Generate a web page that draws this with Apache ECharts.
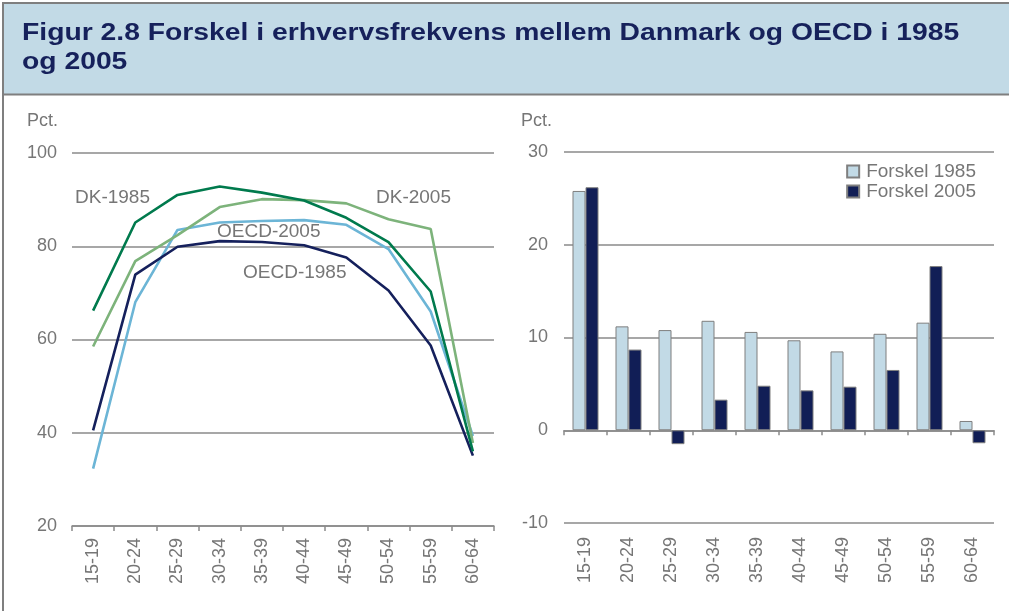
<!DOCTYPE html>
<html>
<head>
<meta charset="utf-8">
<script src="https://cdn.jsdelivr.net/npm/echarts@6/dist/echarts.min.js"></script>
<style>
  html, body { margin: 0; padding: 0; background: #fff; }
  #chart { width: 1009px; height: 611px; }
</style>
</head>
<body>
<div id="chart"></div>
<script>
// aldersgrupper
var ages = ['15-19', '20-24', '25-29', '30-34', '35-39', '40-44', '45-49', '50-54', '55-59', '60-64'];

// erhvervsfrekvens, pct.
var dk1985   = [66.2, 85.1, 91.0, 92.8, 91.5, 89.8, 86.1, 80.9, 70.3, 36.0];
var dk2005   = [58.5, 76.8, 82.4, 88.4, 90.1, 89.9, 89.2, 85.8, 83.7, 37.8];
var oecd2005 = [32.3, 68.0, 83.5, 85.1, 85.4, 85.6, 84.6, 79.4, 66.0, 39.3];
var oecd1985 = [40.5, 73.9, 79.9, 81.1, 80.9, 80.2, 77.6, 70.5, 58.7, 35.1];

// forskel DK - OECD, pct.-point
var diff1985 = [25.8, 11.2, 10.8, 11.8, 10.6, 9.7, 8.5, 10.4, 11.6, 1.0];
var diff2005 = [26.2, 8.7, -1.5, 3.3, 4.8, 4.3, 4.7, 6.5, 17.7, -1.4];

var FONT = '"Liberation Sans", Arial, sans-serif';
var GREY = '#767676';
var LINE = '#8a8a8a';

var chart = echarts.init(document.getElementById('chart'), null, {renderer: 'canvas'});

function lineSerie(name, data, color) {
  return {
    name: name, type: 'line', xAxisIndex: 0, yAxisIndex: 0,
    data: data, symbol: 'none', smooth: false,
    lineStyle: {color: color, width: 2.6},
    itemStyle: {color: color},
    animation: false
  };
}

function lineLabel(text, x, y) {
  return {
    type: 'text', x: x, y: y, z: 10,
    style: {text: text, font: '19px ' + FONT, fill: GREY, textVerticalAlign: 'middle'}
  };
}

var option = {
  animation: false,
  backgroundColor: '#fff',
  grid: [
    {left: 72, right: 515, top: 153, bottom: 85},
    {left: 564, right: 15, top: 152, bottom: 88}
  ],
  legend: {
    data: ['Forskel 1985', 'Forskel 2005'],
    orient: 'vertical', right: 28, top: 157,
    itemWidth: 12, itemHeight: 12, itemGap: 1,
    icon: 'rect',
    textStyle: {fontFamily: FONT, fontSize: 19, color: GREY, padding: [0, 0, 0, 2]}
  },
  xAxis: [
    {
      gridIndex: 0, type: 'category', data: ages, boundaryGap: true,
      axisLine: {lineStyle: {color: LINE, width: 1.5}},
      axisTick: {show: true, length: 5, lineStyle: {color: LINE, width: 1.5}},
      axisLabel: {rotate: 90, margin: 12, fontFamily: FONT, fontSize: 18, color: GREY}
    },
    {
      gridIndex: 1, type: 'category', data: ages, boundaryGap: true, position: 'bottom',
      axisLine: {show: false, onZero: false},
      axisTick: {show: false},
      axisLabel: {rotate: 90, margin: 14, fontFamily: FONT, fontSize: 18, color: GREY}
    },
    {
      gridIndex: 1, type: 'category', data: ages, boundaryGap: true, position: 'bottom',
      axisLine: {show: true, onZero: true, lineStyle: {color: LINE, width: 1.5}},
      axisTick: {show: true, length: 5, lineStyle: {color: LINE, width: 1.5}},
      axisLabel: {show: false}
    }
  ],
  yAxis: [
    {
      gridIndex: 0, type: 'value', min: 20, max: 100, interval: 20,
      axisLine: {show: false}, axisTick: {show: false},
      splitLine: {lineStyle: {color: LINE, width: 1.5}},
      axisLabel: {margin: 15, fontFamily: FONT, fontSize: 18, color: GREY}
    },
    {
      gridIndex: 1, type: 'value', min: -10, max: 30, interval: 10,
      axisLine: {show: false}, axisTick: {show: false},
      splitLine: {lineStyle: {color: LINE, width: 1.5}},
      axisLabel: {margin: 16, fontFamily: FONT, fontSize: 18, color: GREY}
    }
  ],
  series: [
    lineSerie('OECD-2005', oecd2005, '#6cb5d6'),
    lineSerie('DK-2005', dk2005, '#7db37b'),
    lineSerie('OECD-1985', oecd1985, '#15205c'),
    lineSerie('DK-1985', dk1985, '#007a4d'),
    {
      name: 'Forskel 1985', type: 'bar', xAxisIndex: 1, yAxisIndex: 1,
      data: diff1985, barWidth: 13, barGap: '0%',
      itemStyle: {color: '#c2dae6', borderColor: '#7f7f7f', borderWidth: 1}
    },
    {
      name: 'Forskel 2005', type: 'bar', xAxisIndex: 1, yAxisIndex: 1,
      data: diff2005, barWidth: 13, barGap: '0%',
      itemStyle: {color: '#111e56', borderColor: '#7f7f7f', borderWidth: 1}
    }
  ],
  graphic: [
    // titelfelt
    {type: 'rect', shape: {x: 3, y: 3, width: 1006, height: 91}, style: {fill: '#c2dae6'}, z: 0},
    {type: 'line', shape: {x1: 2, y1: 3, x2: 1009, y2: 3}, style: {stroke: '#7f7f7f', lineWidth: 2}},
    {type: 'line', shape: {x1: 3, y1: 2, x2: 3, y2: 611}, style: {stroke: '#7f7f7f', lineWidth: 2}},
    {type: 'line', shape: {x1: 2, y1: 94.5, x2: 1009, y2: 94.5}, style: {stroke: '#7f7f7f', lineWidth: 2}},
    {
      type: 'text', x: 22, y: 34, scaleX: 1.23, z: 10,
      style: {text: 'Figur 2.8 Forskel i erhvervsfrekvens mellem Danmark og OECD i 1985',
        font: 'bold 23px ' + FONT, fill: '#16215b', textVerticalAlign: 'middle'}
    },
    {
      type: 'text', x: 22, y: 63, scaleX: 1.23, z: 10,
      style: {text: 'og 2005', font: 'bold 23px ' + FONT, fill: '#16215b', textVerticalAlign: 'middle'}
    },
    // Pct.
    {type: 'text', x: 27, y: 121, style: {text: 'Pct.', font: '18px ' + FONT, fill: GREY, textVerticalAlign: 'middle'}},
    {type: 'text', x: 521, y: 121, style: {text: 'Pct.', font: '18px ' + FONT, fill: GREY, textVerticalAlign: 'middle'}},
    // kurvenavne
    lineLabel('DK-1985', 75, 198),
    lineLabel('DK-2005', 376, 198),
    lineLabel('OECD-2005', 217, 232),
    lineLabel('OECD-1985', 243, 273)
  ]
};

chart.setOption(option);
</script>
</body>
</html>
